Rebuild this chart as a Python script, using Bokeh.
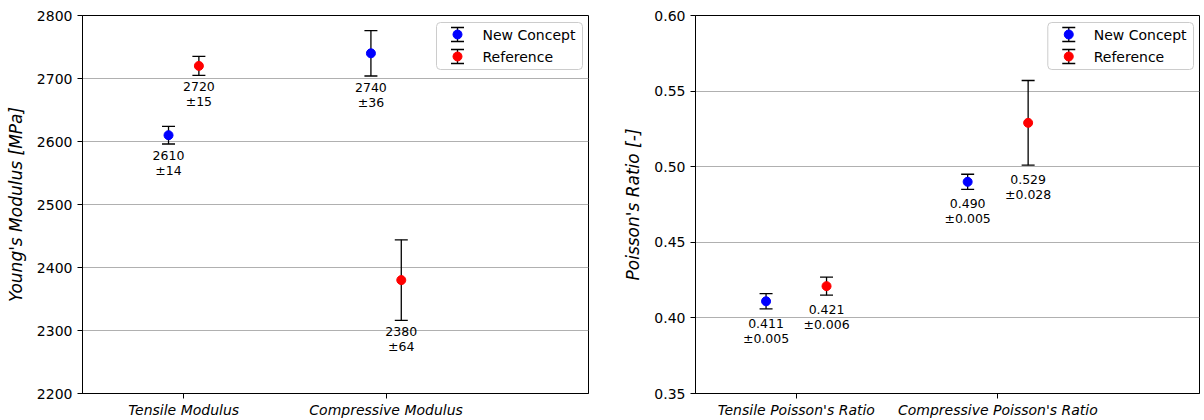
from bokeh.plotting import figure
from bokeh.models import Range1d, FixedTicker, ColumnDataSource, PrintfTickFormatter
from bokeh.layouts import row
from bokeh.embed import file_html
from bokeh.resources import INLINE
from bokeh.core.properties import value

# ---- data -------------------------------------------------------------
series_names = ["New Concept", "Reference"]
series_colors = ["#0000ff", "#ff0000"]

modulus_categories = ["Tensile Modulus", "Compressive Modulus"]
modulus_new = [2610, 2740]
modulus_new_err = [14, 36]
modulus_ref = [2720, 2380]
modulus_ref_err = [15, 64]
modulus_ticks = [2200, 2300, 2400, 2500, 2600, 2700, 2800]

poisson_categories = ["Tensile Poisson's Ratio", "Compressive Poisson's Ratio"]
poisson_new = [0.411, 0.490]
poisson_new_err = [0.005, 0.005]
poisson_ref = [0.421, 0.529]
poisson_ref_err = [0.006, 0.028]
poisson_ticks = [0.35, 0.40, 0.45, 0.50, 0.55, 0.60]

FONT = "DejaVu Sans"


def make_panel(categories, series, ylabel, yticks, yfmt, label_fmt, offset,
               label_gap, width, border_left, border_right):
    frame_w = width - border_left - border_right
    frame_h = 420 - 15 - 27
    p = figure(width=width, height=420,
               x_range=Range1d(-0.5, 2.0),
               y_range=Range1d(yticks[0], yticks[-1]),
               output_backend="svg", toolbar_location=None,
               min_border_left=border_left, min_border_right=border_right,
               min_border_top=15, min_border_bottom=27)
    p.background_fill_color = "white"
    p.border_fill_color = "white"
    p.outline_line_color = "black"
    p.outline_line_alpha = 1.0
    p.outline_line_width = 1

    p.xgrid.visible = False
    yticker = FixedTicker(ticks=yticks)
    p.yaxis.ticker = yticker
    p.ygrid.ticker = yticker
    p.ygrid.grid_line_color = "#b0b0b0"
    p.ygrid.grid_line_width = 1

    p.xaxis.ticker = FixedTicker(ticks=list(range(len(categories))))
    p.xaxis.major_label_overrides = {i: c for i, c in enumerate(categories)}
    p.xaxis.major_label_text_font_style = "italic"
    if yfmt is not None:
        p.yaxis.formatter = yfmt

    for ax in (p.xaxis[0], p.yaxis[0]):
        ax.axis_line_color = "black"
        ax.axis_line_width = 1
        ax.major_tick_line_color = "black"
        ax.major_tick_out = 5
        ax.major_tick_in = 0
        ax.minor_tick_out = 0
        ax.minor_tick_in = 0
        ax.major_label_text_font = FONT
        ax.major_label_text_font_size = "14px"
        ax.major_label_text_color = "black"
        ax.major_label_standoff = 5
    p.xaxis.major_label_standoff = 3

    p.yaxis.axis_label = ylabel
    p.yaxis.axis_label_text_font = FONT
    p.yaxis.axis_label_text_font_style = "italic"
    p.yaxis.axis_label_text_font_size = "17px"
    p.yaxis.axis_label_text_color = "black"
    p.yaxis.axis_label_standoff = 8

    # error bars, markers and value labels
    offsets = [-offset, offset]
    for k, (vals, errs) in enumerate(series):
        xs = [i + offsets[k] for i in range(len(vals))]
        lo = [v - e for v, e in zip(vals, errs)]
        hi = [v + e for v, e in zip(vals, errs)]
        labels = [label_fmt.format(v) + "\n\u00b1" + label_fmt.format(e)
                  for v, e in zip(vals, errs)]
        src = ColumnDataSource(dict(x=xs, y=vals, lo=lo, hi=hi, label=labels))
        p.segment(x0="x", y0="lo", x1="x", y1="hi", source=src,
                  line_color="black", line_width=1.3)
        p.scatter(x="x", y="lo", marker="dash", size=13, source=src,
                  line_color="black", line_width=1.3)
        p.scatter(x="x", y="hi", marker="dash", size=13, source=src,
                  line_color="black", line_width=1.3)
        p.scatter(x="x", y="y", marker="circle", size=9, source=src,
                  fill_color=series_colors[k], line_color=series_colors[k])
        p.text(x="x", y="lo", text="label", source=src,
               text_align="center", text_baseline="top", y_offset=label_gap,
               text_font=value(FONT), text_font_size="12.5px",
               text_color="black", text_line_height=1.0)

    # legend, laid out in frame pixels (origin at top-left of the frame)
    p.extra_x_ranges = {"px": Range1d(0, frame_w)}
    p.extra_y_ranges = {"px": Range1d(frame_h, 0)}
    box_r = frame_w - 6
    box_l = box_r - 146
    p.quad(left=[box_l], right=[box_r], top=[7], bottom=[54],
           x_range_name="px", y_range_name="px",
           fill_color="white", fill_alpha=0.8,
           line_color="#cccccc", line_width=1, border_radius=4)
    ent_y = [19, 41]
    sw_x = [box_l + 21] * 2
    leg = ColumnDataSource(dict(x=sw_x, y=ent_y,
                                lo=[y + 7 for y in ent_y],
                                hi=[y - 7 for y in ent_y],
                                tx=[box_l + 46] * 2,
                                name=series_names, color=series_colors))
    p.segment(x0="x", y0="lo", x1="x", y1="hi", source=leg,
              x_range_name="px", y_range_name="px",
              line_color="black", line_width=1.3)
    p.scatter(x="x", y="lo", marker="dash", size=13, source=leg,
              x_range_name="px", y_range_name="px",
              line_color="black", line_width=1.3)
    p.scatter(x="x", y="hi", marker="dash", size=13, source=leg,
              x_range_name="px", y_range_name="px",
              line_color="black", line_width=1.3)
    p.scatter(x="x", y="y", marker="circle", size=9, source=leg,
              x_range_name="px", y_range_name="px",
              fill_color="color", line_color="color")
    p.text(x="tx", y="y", text="name", source=leg,
           x_range_name="px", y_range_name="px",
           text_align="left", text_baseline="middle",
           text_font=value(FONT), text_font_size="14px", text_color="black")
    return p


p1 = make_panel(modulus_categories,
                [(modulus_new, modulus_new_err), (modulus_ref, modulus_ref_err)],
                "Young's Modulus [MPa]", modulus_ticks, None, "{:.0f}",
                0.075, 4, 620, 82, 32)
p2 = make_panel(poisson_categories,
                [(poisson_new, poisson_new_err), (poisson_ref, poisson_ref_err)],
                "Poisson's Ratio [-]", poisson_ticks,
                PrintfTickFormatter(format="%.2f"), "{:.3f}",
                0.15, 7, 584, 74, 5)

layout = row(p1, p2)
open("out.html", "w").write(file_html(layout, INLINE))
